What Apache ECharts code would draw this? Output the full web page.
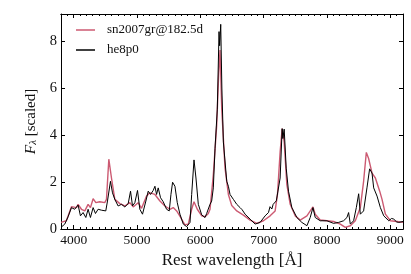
<!DOCTYPE html>
<html><head><meta charset="utf-8">
<script src="https://cdn.jsdelivr.net/npm/echarts@6/dist/echarts.min.js"></script>
<style>html,body{margin:0;padding:0;background:#fff}#c{width:411px;height:274px}</style>
</head><body><div id="c"></div>
<script>
var seriesNames = ['sn2007gr@182.5d', 'he8p0'];
var xMajorTicks = [4000, 5000, 6000, 7000, 8000, 9000];
var yTicks = [0, 2, 4, 6, 8];

var snWave = [3800,3885,3965,4044,4070,4123,4176,4228,4265,4307,4350,4412,4491,4518,4555,4597,4650,4729,4808,4887,4940,5018,5072,5151,5203,5283,5362,5441,5520,5572,5626,5689,5757,5810,5863,5900,5952,6022,6074,6126,6153,6205,6258,6290,6311,6338,6390,6443,6496,6575,6680,6786,6892,6996,7102,7181,7218,7260,7292,7324,7366,7419,7498,7577,7683,7778,7814,7893,7999,8104,8210,8289,8368,8447,8526,8578,8621,8657,8711,8764,8832,8869,8922,9001,9107,9200];
var snFlux = [0.28,0.35,0.95,0.91,1.05,0.84,0.77,1.05,0.91,1.29,1.12,1.16,1.12,1.26,2.97,2.17,1.26,1.08,0.98,1.12,0.94,1.12,0.88,1.40,1.54,1.47,1.19,0.98,0.84,0.91,0.77,0.49,0.18,0.21,0.84,1.16,0.84,0.56,0.52,0.66,0.84,2.31,4.4,6.6,7.62,5.1,2.59,1.47,1.0,0.77,0.59,0.38,0.24,0.35,0.56,0.77,1.47,3.29,4.27,3.7,1.89,1.05,0.56,0.38,0.56,0.94,0.63,0.38,0.35,0.32,0.21,0.07,0.14,0.35,0.91,2.03,3.26,3.0,2.38,2.17,1.61,1.26,0.63,0.35,0.32,0.28];

var heWave = [3800,3860,3912,3965,4017,4070,4107,4149,4192,4228,4265,4307,4344,4386,4439,4507,4534,4581,4613,4650,4702,4755,4808,4861,4898,4929,4966,5008,5045,5087,5140,5177,5214,5256,5283,5309,5335,5372,5414,5467,5509,5536,5562,5599,5636,5678,5731,5784,5837,5863,5900,5931,5968,6022,6074,6100,6153,6179,6205,6232,6268,6295,6305,6322,6340,6364,6417,6443,6469,6495,6522,6550,6575,6600,6628,6660,6707,6786,6865,6944,7023,7076,7100,7129,7150,7181,7200,7218,7260,7292,7303,7324,7356,7392,7445,7524,7603,7683,7735,7778,7814,7893,7999,8104,8183,8262,8315,8341,8368,8420,8463,8500,8526,8578,8631,8673,8711,8737,8790,8843,8896,8975,9020,9054,9100,9133,9200];
var heFlux = [0.07,0.21,0.52,0.91,0.84,1.02,0.56,0.70,0.49,0.84,0.49,0.91,0.66,0.84,0.80,0.77,1.19,2.03,1.54,1.26,0.98,1.05,0.94,1.08,1.61,0.98,1.12,1.64,0.84,0.63,1.19,1.61,1.47,1.64,1.82,1.47,1.75,1.33,1.16,0.84,0.77,1.47,1.99,1.82,1.12,0.63,0.21,0.10,0.28,1.47,2.94,2.17,1.05,0.60,0.49,0.66,1.05,1.19,1.75,3.43,5.1,8.4,7.8,8.71,6.0,3.7,2.03,1.82,1.47,1.40,1.26,1.15,1.05,1.0,0.91,0.82,0.63,0.42,0.21,0.28,0.56,0.70,0.95,0.85,1.05,0.98,1.2,1.12,2.17,4.27,3.85,4.25,2.59,1.61,0.91,0.49,0.28,0.14,0.49,0.91,0.49,0.35,0.35,0.24,0.28,0.35,0.49,0.70,0.21,0.35,0.91,1.50,0.63,0.77,1.75,2.56,2.38,1.75,1.40,0.91,0.56,0.35,0.45,0.42,0.30,0.28,0.32];

function pairs(w, f) { return w.map(function (x, i) { return [x, f[i]]; }); }

var FONT = 'Liberation Serif';
var XMIN = 3800, XMAX = 9200, YMIN = 0, YMAX = 9.15;
var lineCol = '#000';

function xAxisBase(pos, major, labels) {
  return {
    type: 'value', position: pos, min: XMIN, max: XMAX,
    interval: major ? undefined : 100,
    axisLine: { show: true, onZero: false, lineStyle: { color: lineCol, width: 1 } },
    axisTick: major ? { show: true, inside: true, length: 4, customValues: xMajorTicks, lineStyle: { color: lineCol } }
                    : { show: true, inside: true, length: 2, lineStyle: { color: lineCol } },
    axisLabel: labels ? { show: true, customValues: xMajorTicks, formatter: function (v) { return String(v); },
                          fontFamily: FONT, fontSize: 13.5, color: '#111', margin: 4 } : { show: false },
    splitLine: { show: false }
  };
}

var chart = echarts.init(document.getElementById('c'), null, { renderer: 'canvas' });
var xBottom = xAxisBase('bottom', true, true);
xBottom.name = 'Rest wavelength [Å]';
xBottom.nameLocation = 'middle';
xBottom.nameGap = 23;
xBottom.nameTextStyle = { fontFamily: FONT, fontSize: 17, color: '#111' };

chart.setOption({
  animation: false,
  backgroundColor: '#fff',
  grid: { left: 61, top: 14, width: 342, height: 218, containLabel: false },
  legend: {
    orient: 'vertical', left: 76, top: 23, itemGap: 6, padding: 0,
    itemWidth: 19, itemHeight: 1.5, icon: 'rect',
    textStyle: { fontFamily: FONT, fontSize: 13, color: '#111', lineHeight: 14, padding: [0, 0, 0, 7] },
    data: seriesNames
  },
  xAxis: [
    xBottom,
    xAxisBase('bottom', false, false),
    xAxisBase('top', true, false),
    xAxisBase('top', false, false)
  ],
  yAxis: [
    {
      type: 'value', position: 'left', min: YMIN, max: YMAX,
      axisLine: { show: true, lineStyle: { color: lineCol } },
      axisTick: { show: true, inside: true, length: 4, customValues: yTicks, lineStyle: { color: lineCol } },
      axisLabel: { customValues: yTicks, fontFamily: FONT, fontSize: 14.5, color: '#111', margin: 4 },
      splitLine: { show: false },
      name: '{i|F}{s|λ} [scaled]', nameLocation: 'middle', nameGap: 17, nameRotate: 90,
      nameTextStyle: {
        fontFamily: FONT, fontSize: 15, color: '#111',
        rich: {
          i: { fontFamily: FONT, fontSize: 15.5, fontStyle: 'italic', color: '#111' },
          s: { fontFamily: FONT, fontSize: 11, fontStyle: 'italic', color: '#111', padding: [5, 0, 0, 0] }
        }
      }
    },
    {
      type: 'value', position: 'right', min: YMIN, max: YMAX,
      axisLine: { show: true, lineStyle: { color: lineCol } },
      axisTick: { show: true, inside: true, length: 4, customValues: yTicks, lineStyle: { color: lineCol } },
      axisLabel: { show: false }, splitLine: { show: false }
    }
  ],
  series: [
    { name: seriesNames[0], type: 'line', xAxisIndex: 0, yAxisIndex: 0, data: pairs(snWave, snFlux),
      showSymbol: false, symbol: 'none', color: '#cc5a72', lineStyle: { color: '#cc5a72', width: 1.4 }, z: 2 },
    { name: seriesNames[1], type: 'line', xAxisIndex: 0, yAxisIndex: 0, data: pairs(heWave, heFlux),
      showSymbol: false, symbol: 'none', color: '#000', lineStyle: { color: '#000', width: 1 }, z: 3 }
  ]
});
</script></body></html>
